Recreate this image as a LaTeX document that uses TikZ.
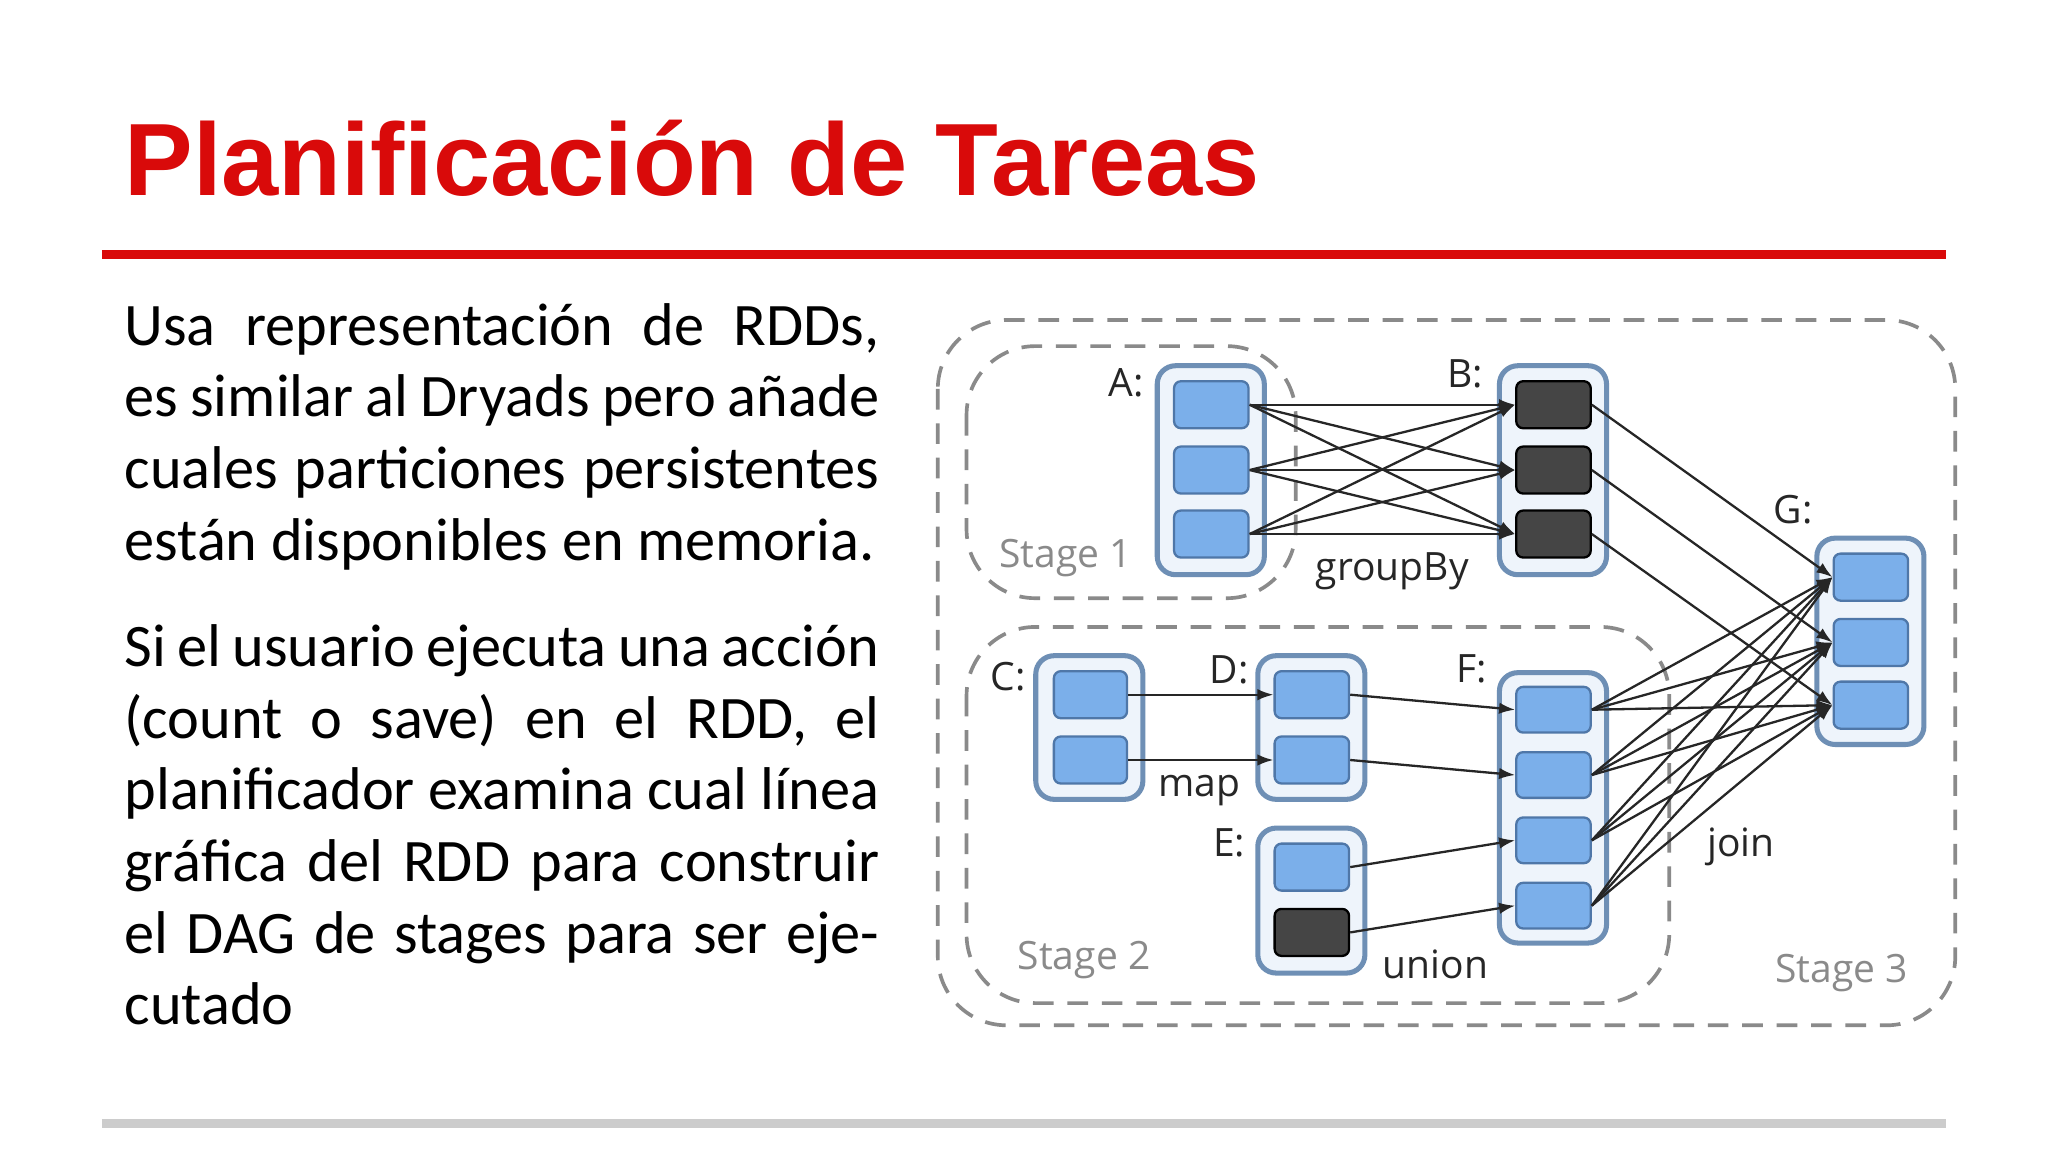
\documentclass[tikz,border=0pt]{standalone}
\usepackage{fontspec}
\setmainfont{Carlito}
\newfontfamily\titlefont{Liberation Sans}
\newfontfamily\diagfont{Open Sans}
\usetikzlibrary{arrows.meta}
\definecolor{titlered}{HTML}{D90A0A}
\definecolor{cellblue}{HTML}{7BAFEA}
\definecolor{celledge}{HTML}{4F77A8}
\definecolor{boxedge}{HTML}{6E8FB5}
\definecolor{boxfill}{HTML}{EEF4FB}
\definecolor{darkcell}{HTML}{454545}
\definecolor{stagegray}{HTML}{8A8A8A}
\tikzset{
  cont/.style={draw=boxedge,fill=boxfill,line width=2.2pt,rounded corners=8pt},
  cell/.style={draw=celledge,fill=cellblue,line width=1pt,rounded corners=3pt},
  dcell/.style={draw=black,fill=darkcell,line width=1pt,rounded corners=3pt},
  stage/.style={draw=stagegray,dashed,line width=1.6pt,dash pattern=on 9pt off 6pt,rounded corners=30pt},
  lab/.style={font=\diagfont\fontsize{17}{20}\selectfont,text=black!85,inner sep=0pt},
  slab/.style={font=\diagfont\fontsize{17}{20}\selectfont,text=stagegray,inner sep=0pt},
  edge/.style={-{Latex[length=7pt,width=5pt]},line width=1pt,black!85},
  body/.style={font=\fontsize{26.3}{31.2}\selectfont,text width=11.56cm,align=justify,inner sep=0pt,anchor=north west,text=black}
}
\begin{document}
\begin{tikzpicture}[x=0.02cm,y=-0.02cm]
\useasboundingbox[fill=white] (0,0) rectangle (1568,882);
\node[font=\titlefont\bfseries\fontsize{44.8}{50}\selectfont,text=titlered,anchor=base west,inner sep=0pt] (title) at (95,150) {Planificación de Tareas};
\draw[titlered,line width=4pt] (78,195) coordinate (r1) -- (1490,195) coordinate (r2);
\draw[black!20,line width=4pt] (78,860) coordinate (g1) -- (1490,860) coordinate (g2);
\node[body] (p1) at (95,232) {\lefthyphenmin=64 \hyphenpenalty=10000 Usa representación de RDDs, es similar al Dryads pero añade cuales particiones persistentes están disponibles en memoria.};
\node[body] (p2) at (95,478) {\lefthyphenmin=64 \hyphenpenalty=10000 Si el usuario ejecuta una acción (count o save) en el RDD, el planificador examina cual línea gráfica del RDD para construir el DAG de stages para ser ejecutado};
% stages
\draw[stage] (718,245) rectangle (1497,785);
\draw[stage] (740,265) rectangle (992,458);
\draw[stage] (740,480) rectangle (1278,768);
% containers
\draw[cont] (886,280) rectangle (968,440);
\draw[cont] (1148,280) rectangle (1230,440);
\draw[cont] (1391,412) rectangle (1473,570);
\draw[cont] (793,502) rectangle (875,612);
\draw[cont] (963,502) rectangle (1045,612);
\draw[cont] (963,634) rectangle (1045,745);
\draw[cont] (1148,515) rectangle (1230,722);
% cells
\foreach \n/\y in {1/291,2/341,3/390}{
  \node[cell,minimum width=1.14cm,minimum height=0.72cm,anchor=north west] (A\n) at (898,\y) {};
  \node[dcell,minimum width=1.14cm,minimum height=0.72cm,anchor=north west] (B\n) at (1160,\y) {};}
\foreach \n/\y in {1/423,2/473,3/521}
  \node[cell,minimum width=1.14cm,minimum height=0.72cm,anchor=north west] (G\n) at (1403,\y) {};
\foreach \n/\y in {1/513,2/563}{
  \node[cell,minimum width=1.12cm,minimum height=0.72cm,anchor=north west] (C\n) at (806,\y) {};
  \node[cell,minimum width=1.14cm,minimum height=0.72cm,anchor=north west] (D\n) at (975,\y) {};}
\node[cell,minimum width=1.14cm,minimum height=0.72cm,anchor=north west] (E1) at (975,645) {};
\node[dcell,minimum width=1.14cm,minimum height=0.72cm,anchor=north west] (E2) at (975,695) {};
\foreach \n/\y in {1/525,2/575,3/625,4/675}
  \node[cell,minimum width=1.14cm,minimum height=0.7cm,anchor=north west] (F\n) at (1160,\y) {};
% edges
\foreach \i in {1,2,3}{\foreach \j in {1,2,3}{\draw[edge] (A\i.east) -- (B\j.west);}}
\foreach \i in {1,2,3}{\draw[edge] (B\i.east) -- (G\i.west);}
\foreach \i in {1,2,3,4}{\foreach \j in {1,2,3}{\draw[edge] (F\i.east) -- (G\j.west);}}
\draw[edge] (C1.east) -- (D1.west);
\draw[edge] (C2.east) -- (D2.west);
\draw[edge] (D1.east) -- (F1.west);
\draw[edge] (D2.east) -- (F2.west);
\draw[edge] (E1.east) -- (F3.west);
\draw[edge] (E2.east) -- (F4.west);
% labels
\node[lab] (la) at (862,293) {A:};
\node[lab] (lb) at (1122,286) {B:};
\node[lab] (lg) at (1373,390) {G:};
\node[lab] (lc) at (772,518) {C:};
\node[lab] (ld) at (941,513) {D:};
\node[lab] (lf) at (1127,512) {F:};
\node[lab] (le) at (941,645) {E:};
\node[lab] (lgb) at (1066,437) {groupBy};
\node[lab] (lm) at (918,605) {map};
\node[lab] (lu) at (1099,738) {union};
\node[lab] (lj) at (1333,648) {join};
\node[slab] (s1) at (816,427) {Stage 1};
\node[slab] (s2) at (830,735) {Stage 2};
\node[slab] (s3) at (1410,745) {Stage 3};
\end{tikzpicture}
\end{document}
